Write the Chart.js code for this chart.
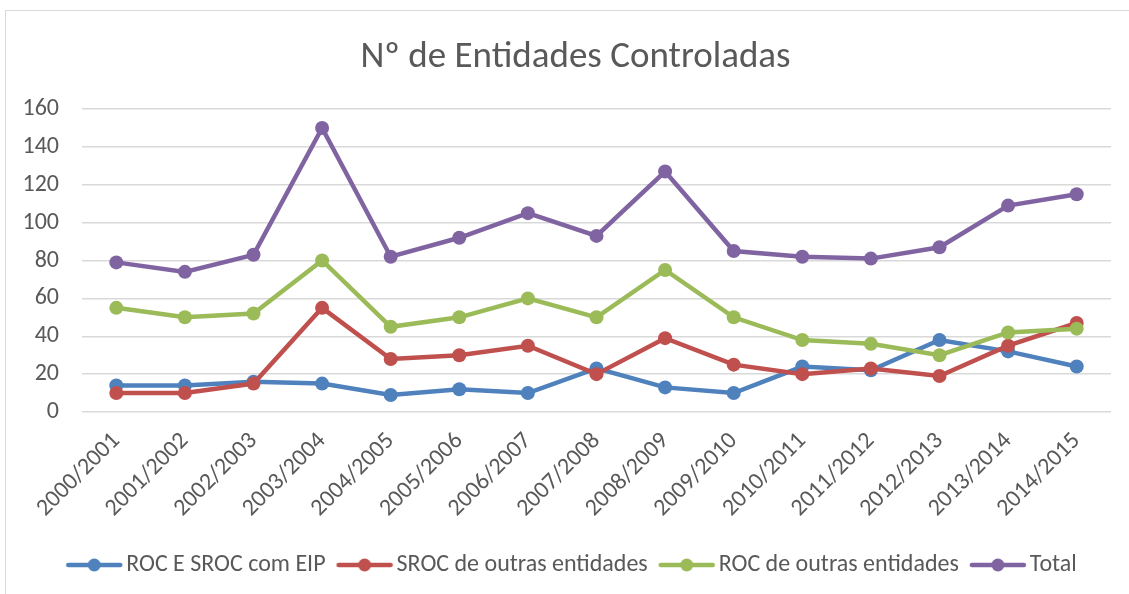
<!DOCTYPE html>
<html>
<head>
<meta charset="utf-8">
<script src="https://cdn.jsdelivr.net/npm/chart.js@4/dist/chart.umd.min.js"></script>
<style>
  html, body { margin: 0; padding: 0; background: #fff; }
  #wrap { position: relative; width: 1129px; height: 594px; overflow: hidden; }
  #frame { position: absolute; left: 5px; top: 10px; width: 1200px; height: 700px; border: 1px solid #d9d9d9; pointer-events: none; }
  canvas { position: absolute; left: 0; top: 0; }
</style>
</head>
<body>
<div id="wrap">
  <div id="frame"></div>
  <canvas id="c" width="1129" height="594"></canvas>
</div>
<script>
const categories = ['2000/2001','2001/2002','2002/2003','2003/2004','2004/2005','2005/2006','2006/2007','2007/2008','2008/2009','2009/2010','2010/2011','2011/2012','2012/2013','2013/2014','2014/2015'];
const rocSrocEip = [14,14,16,15,9,12,10,23,13,10,24,22,38,32,24];
const srocOutras = [10,10,15,55,28,30,35,20,39,25,20,23,19,35,47];
const rocOutras = [55,50,52,80,45,50,60,50,75,50,38,36,30,42,44];
const total = [79,74,83,150,82,92,105,93,127,85,82,81,87,109,115];
const seriesNames = ['ROC E SROC com EIP','SROC de outras entidades','ROC de outras entidades','Total'];
const yTicks = { min: 0, max: 160, step: 20 };

const colors = ['#4F81BD','#C0504D','#9BBB59','#8064A2'];
const FONT = "Carlito, Lato, 'Open Sans', sans-serif";
const TXT = '#595959';

function legendImage(color) {
  const cv = document.createElement('canvas');
  cv.width = 58; cv.height = 16;
  const g = cv.getContext('2d');
  g.strokeStyle = color; g.lineWidth = 4.5; g.lineCap = 'round';
  g.beginPath(); g.moveTo(3, 8); g.lineTo(55, 8); g.stroke();
  g.fillStyle = color;
  g.beginPath(); g.arc(29, 8, 6.5, 0, Math.PI * 2); g.fill();
  return cv;
}
const legendImgs = colors.map(legendImage);

const seriesData = [rocSrocEip, srocOutras, rocOutras, total];
const datasets = seriesData.map((d, i) => ({
  label: seriesNames[i],
  data: d,
  borderColor: colors[i],
  backgroundColor: colors[i],
  borderWidth: 4.5,
  pointRadius: 7,
  pointHoverRadius: 7,
  pointBorderWidth: 0,
  tension: 0,
  order: 4 - i
}));

const noLabelClip = {
  id: 'noLabelClip',
  beforeDraw(chart) {
    const y = chart.scales.y;
    if (y) y._computeLabelArea = () => undefined;
  }
};

new Chart(document.getElementById('c'), {
  type: 'line',
  data: { labels: categories, datasets },
  plugins: [noLabelClip],
  options: {
    responsive: false,
    animation: false,
    layout: { padding: { left: 40, right: 18, top: 0, bottom: 7 } },
    plugins: {
      tooltip: { enabled: false },
      title: {
        display: true,
        text: 'Nº de Entidades Controladas',
        color: TXT,
        font: { family: FONT, size: 37, weight: 'normal' },
        padding: { top: 36, bottom: 28.6 }
      },
      legend: {
        position: 'bottom',
        labels: {
          usePointStyle: true,
          pointStyleWidth: 40,
          color: TXT,
          font: { family: FONT, size: 24 },
          padding: 19,
          sort: (a, b) => a.datasetIndex - b.datasetIndex,
          generateLabels: (chart) => {
            const items = Chart.defaults.plugins.legend.labels.generateLabels(chart);
            items.forEach(it => { it.pointStyle = legendImgs[it.datasetIndex]; });
            return items;
          }
        }
      }
    },
    scales: {
      x: {
        offset: true,
        grid: { display: false },
        border: { display: false },
        ticks: {
          color: TXT,
          font: { family: FONT, size: 24 },
          minRotation: 45,
          maxRotation: 45,
          padding: 7,
          autoSkip: false
        },
        afterFit: (s) => { s.height = 122; }
      },
      y: {
        min: yTicks.min,
        max: yTicks.max,
        grid: { color: '#d9d9d9', lineWidth: 1.5, drawTicks: false },
        border: { display: false },
        ticks: {
          stepSize: yTicks.step,
          color: TXT,
          font: { family: FONT, size: 24 },
          padding: 23
        },
        afterFit: (s) => { s.width = 42; }
      }
    }
  }
});
</script>
</body>
</html>
